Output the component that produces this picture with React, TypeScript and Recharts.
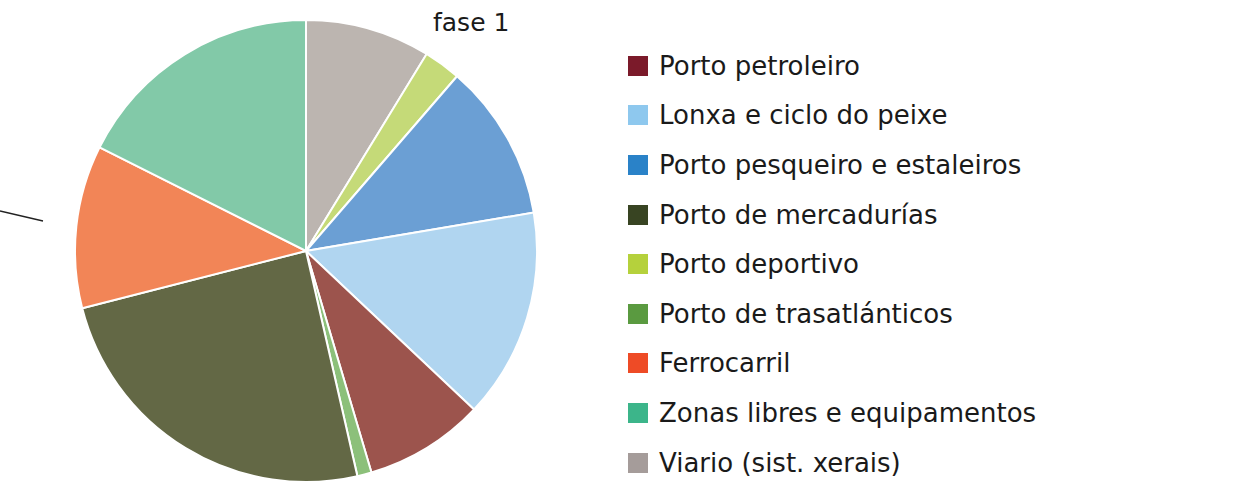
import React from 'react';
import { PieChart, Pie, Cell, Legend } from 'recharts';

// slices clockwise from 12 o'clock
const sliceNames = [
  'Viario (sist. xerais)',
  'Porto deportivo',
  'Porto pesqueiro e estaleiros',
  'Lonxa e ciclo do peixe',
  'Porto petroleiro',
  'Porto de trasatlánticos',
  'Porto de mercadurías',
  'Ferrocarril',
  'Zonas libres e equipamentos',
];
const sliceValues = [8.75, 2.6, 11.0, 14.7, 8.4, 1.0, 24.6, 11.4, 17.6];
const sliceColors = ['#bcb5b0', '#c5da78', '#6b9fd4', '#b0d5f0', '#9c544d', '#8cc07a', '#636845', '#f28557', '#82c9a8'];

// legend order as in the figure
const legendNames = [
  'Porto petroleiro',
  'Lonxa e ciclo do peixe',
  'Porto pesqueiro e estaleiros',
  'Porto de mercadurías',
  'Porto deportivo',
  'Porto de trasatlánticos',
  'Ferrocarril',
  'Zonas libres e equipamentos',
  'Viario (sist. xerais)',
];
const legendColors = ['#7b1a2a', '#8ec8ee', '#2a82c8', '#384422', '#b5d13c', '#5a9a40', '#ee4b26', '#3cb58a', '#a59c9a'];

const data = sliceNames.map((name, i) => ({ name, value: sliceValues[i] }));

const FONT = '"DejaVu Sans", sans-serif';

const LegendList = () => (
  <div style={{ fontFamily: FONT }}>
    {legendNames.map((name, i) => (
      <div key={name} style={{ display: 'flex', alignItems: 'center', height: 49.6 }}>
        <span style={{ width: 20, height: 20, background: legendColors[i], marginRight: 11, flexShrink: 0 }} />
        <span style={{ fontSize: 26, color: '#1a1a1a', whiteSpace: 'nowrap' }}>{name}</span>
      </div>
    ))}
  </div>
);

export default function App() {
  return (
    <div style={{ position: 'absolute', left: 0, top: 0, width: 1240, height: 495, background: '#fff' }}>
      <PieChart width={1240} height={495} margin={{ top: 0, right: 0, bottom: 0, left: 0 }}>
        <text x={433} y={31} fontSize={25} fontFamily={FONT} fill="#1a1a1a">fase 1</text>
        <line x1={0} y1={211} x2={43} y2={221} stroke="#222" strokeWidth={1.3} />
        <Pie
          data={data}
          dataKey="value"
          nameKey="name"
          cx={306}
          cy={251}
          outerRadius={231}
          startAngle={90}
          endAngle={-270}
          stroke="#ffffff"
          strokeWidth={2}
          isAnimationActive={false}
        >
          {data.map((d, i) => (
            <Cell key={d.name} fill={sliceColors[i]} />
          ))}
        </Pie>
        <Legend
          content={() => <LegendList />}
          wrapperStyle={{ position: 'absolute', left: 628, top: 41, width: 600 }}
        />
      </PieChart>
    </div>
  );
}
